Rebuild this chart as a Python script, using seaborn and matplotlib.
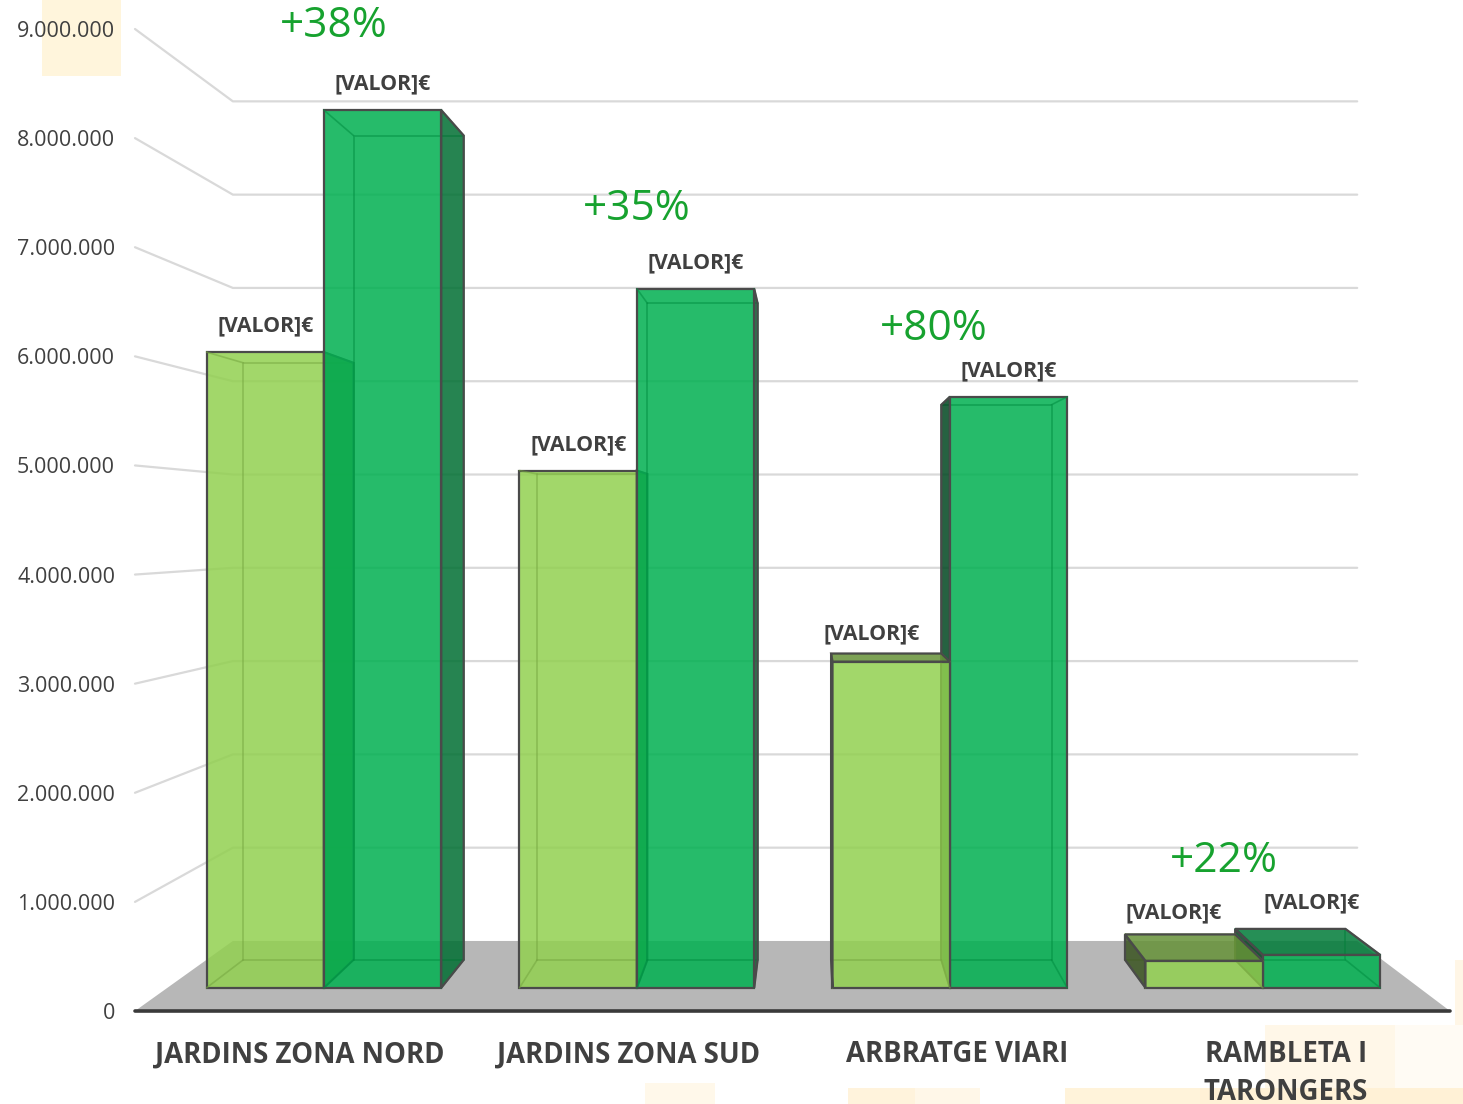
import numpy as np
import pandas as pd
import matplotlib
matplotlib.use("Agg")
import matplotlib.pyplot as plt
import seaborn as sns
from matplotlib.transforms import Affine2D, IdentityTransform
from matplotlib.patches import Polygon, Rectangle
from matplotlib.lines import Line2D
from matplotlib.colors import to_rgb

# ---------------- data ----------------
categories = ["JARDINS ZONA NORD", "JARDINS ZONA SUD", "ARBRATGE VIARI", "RAMBLETA I\nTARONGERS"]
series = ["Abans", "Després"]
values_before = [6120000, 4980000, 3140000, 260000]
values_after = [8450000, 6730000, 5690000, 317000]
pct_labels = ["+38%", "+35%", "+80%", "+22%"]
value_label = "[VALOR]€"
y_ticks = [0, 1000000, 2000000, 3000000, 4000000, 5000000, 6000000, 7000000, 8000000, 9000000]

# ---------------- style / layout ----------------
W, H, DPI = 1463, 1104, 100
COL_LIGHT = "#92D050"
COL_DARK = "#00B050"
FACE_ALPHA = 0.85
EDGE = "#4A4A4A"
TEXT = "#404040"
PCT_COL = "#17A22F"
VP = (810.0, H - 528.0)                 # vanishing point (display px)
K_FRONT, K_BACK, K_WALL = 0.952, 0.894, 0.855
pct_offsets = [(10, -58), (0, -54), (-16, -42), (-39, -42)]
# value-label nudges in px (dx, dy) per [series][category]
value_label_nudge = [[(0, 0), (0, 0), (-20, -6), (-30, -4)],
                     [(0, 0), (0, 0), (0, 0), (-10, 0)]]
cream_boxes = [  # faint background blocks (image px: x0, y0, x1, y1, colour)
    (42, 0, 121, 76, "#FFF5DC"),
    (645, 1083, 715, 1104, "#FFF8EA"),
    (848, 1088, 915, 1104, "#FFF3DC"),
    (915, 1088, 980, 1104, "#FFF7E8"),
    (1065, 1088, 1200, 1104, "#FFF3DA"),
    (1265, 1025, 1395, 1088, "#FFF7E8"),
    (1395, 1025, 1463, 1088, "#FFFBF4"),
    (1200, 1088, 1463, 1104, "#FFF1D6"),
    (1455, 960, 1463, 1025, "#FFF6E6"),
]

sns.set_theme(style="white")
plt.rcParams["font.family"] = ["Open Sans", "DejaVu Sans"]

fig = plt.figure(figsize=(W / DPI, H / DPI), dpi=DPI)
fig.patch.set_facecolor("white")
for x0, y0, x1, y1, c in cream_boxes:
    fig.add_artist(Rectangle((x0, H - y1), x1 - x0, y1 - y0, transform=IdentityTransform(),
                             facecolor=c, edgecolor="none", zorder=0))

ax = fig.add_axes([135 / W, (H - 1011) / H, (1450 - 135) / W, (1011 - 29) / H])
ax.set_facecolor("none")

df = pd.DataFrame({
    "Categoria": categories * 2,
    "Serie": [series[0]] * len(categories) + [series[1]] * len(categories),
    "Valor": values_before + values_after,
})
sns.barplot(data=df, x="Categoria", y="Valor", hue="Serie", order=categories, hue_order=series,
            palette=[COL_LIGHT, COL_DARK], width=0.75, saturation=1, errorbar=None,
            legend=False, ax=ax)
ax.set_xlim(-0.5, len(categories) - 0.5)
ax.set_ylim(0, 9000000)
ax.set_autoscale_on(False)
for s in ax.spines.values():
    s.set_visible(False)
ax.set_xlabel("")
ax.set_ylabel("")
ax.grid(False)
ax.set_yticks(y_ticks)
ax.set_yticklabels([f"{v:,.0f}".replace(",", ".") for v in y_ticks], fontsize=15.5, color=TEXT)
ax.tick_params(axis="y", length=0, pad=14.4)
ax.set_xticks(range(len(categories)))
ax.set_xticklabels(categories, fontsize=19.8, fontweight="bold", color=TEXT, linespacing=1.38)
ax.tick_params(axis="x", length=0, pad=21)


def persp(k):
    return Affine2D().translate(-VP[0], -VP[1]).scale(k).translate(VP[0], VP[1])


def proj(pts, k):
    d = ax.transData.transform(np.atleast_2d(np.asarray(pts, dtype=float)))
    return persp(k).transform(d)


def shade(c, f):
    r, g, b = to_rgb(c)
    return (r * f, g * f, b * f)


ID = IdentityTransform()
x_lo, x_hi = ax.get_xlim()

# floor
floor = np.vstack([proj([(x_lo, 0), (x_hi, 0)], 1.0), proj([(x_hi, 0), (x_lo, 0)], K_WALL)])
ax.add_patch(Polygon(floor, closed=True, transform=ID, facecolor="#B7B7B7",
                     edgecolor="none", zorder=1, clip_on=False))

# gridlines: side wall + back wall
for v in y_ticks[1:]:
    pts = np.vstack([proj([(x_lo, v)], 1.0), proj([(x_lo, v), (x_hi, v)], K_WALL)])
    ax.add_line(Line2D(pts[:, 0], pts[:, 1], transform=ID, color="#D9D9D9", lw=1.6,
                       zorder=1.5, clip_on=False))

# front axis line
pts = proj([(x_lo, 0), (x_hi, 0)], 1.0)
ax.add_line(Line2D(pts[:, 0], pts[:, 1], transform=ID, color="#3A3A3A", lw=2.6,
                   zorder=30, clip_on=False))

# bars with 3D extrusion
bars = []
for hi, cont in enumerate(ax.containers):
    col = [COL_LIGHT, COL_DARK][hi]
    for ci, p in enumerate(cont.patches):
        x0 = p.get_x()
        x1 = x0 + p.get_width()
        h = p.get_height()
        cx = proj([((x0 + x1) / 2, h)], K_FRONT)[0, 0]
        bars.append(dict(patch=p, col=col, x0=x0, x1=x1, h=h, hue=hi, cat=ci,
                         key=-abs(cx - VP[0])))
bars.sort(key=lambda b: b["key"])

label_pos = {}
for i, b in enumerate(bars):
    z = 3 + i * 0.1
    p, col, x0, x1, h = b["patch"], b["col"], b["x0"], b["x1"], b["h"]
    p.set_transform(ax.transData + persp(K_FRONT))
    p.set_facecolor(to_rgb(col) + (FACE_ALPHA,))
    p.set_edgecolor(EDGE)
    p.set_linewidth(1.6)
    p.set_zorder(z)
    p.set_clip_on(False)

    F = proj([(x0, 0), (x1, 0), (x1, h), (x0, h)], K_FRONT)
    B = proj([(x0, 0), (x1, 0), (x1, h), (x0, h)], K_BACK)

    # inner (see-through) edges
    inner = shade(col, 0.8) + (0.55,)
    bb = np.vstack([B, B[:1]])
    ax.add_line(Line2D(bb[:, 0], bb[:, 1], transform=ID, color=inner, lw=1.2,
                       zorder=z + 0.01, clip_on=False))
    for j in range(4):
        ax.add_line(Line2D([F[j, 0], B[j, 0]], [F[j, 1], B[j, 1]], transform=ID, color=inner,
                           lw=1.2, zorder=z + 0.01, clip_on=False))

    faces = []
    if F[1, 0] < VP[0]:   # right side visible
        faces.append(([F[1], B[1], B[2], F[2]], 0.63))
    if F[0, 0] > VP[0]:   # left side visible
        faces.append(([F[0], B[0], B[3], F[3]], 0.40))
    if F[2, 1] < VP[1]:   # top visible (bar top below eye level)
        faces.append(([F[3], F[2], B[2], B[3]], 0.70))
    for poly, f in faces:
        ax.add_patch(Polygon(np.array(poly), closed=True, transform=ID,
                             facecolor=shade(col, f) + (FACE_ALPHA,), edgecolor=EDGE,
                             lw=1.6, zorder=z + 0.02, clip_on=False))

    top_y = max(F[2, 1], B[2, 1])
    ndx, ndy = value_label_nudge[b["hue"]][b["cat"]]
    lx = (F[2, 0] + F[3, 0]) / 2 + ndx
    ly = top_y + 26 + ndy
    label_pos[(b["hue"], b["cat"])] = (lx, ly)
    ax.text(lx, ly, value_label, transform=ID, ha="center", va="center", fontsize=15.3,
            fontweight="bold", color=TEXT, zorder=40)

# percentage increase labels
for ci, lab in enumerate(pct_labels):
    cx = proj([(ci, 0)], K_FRONT)[0, 0]
    ly = label_pos[(1, ci)][1]
    dx, dy = pct_offsets[ci]
    ax.text(cx + dx, ly - dy, lab, transform=ID, ha="center", va="center", fontsize=30.5,
            color=PCT_COL, zorder=40)

fig.savefig("out.png", dpi=DPI, facecolor="white")
